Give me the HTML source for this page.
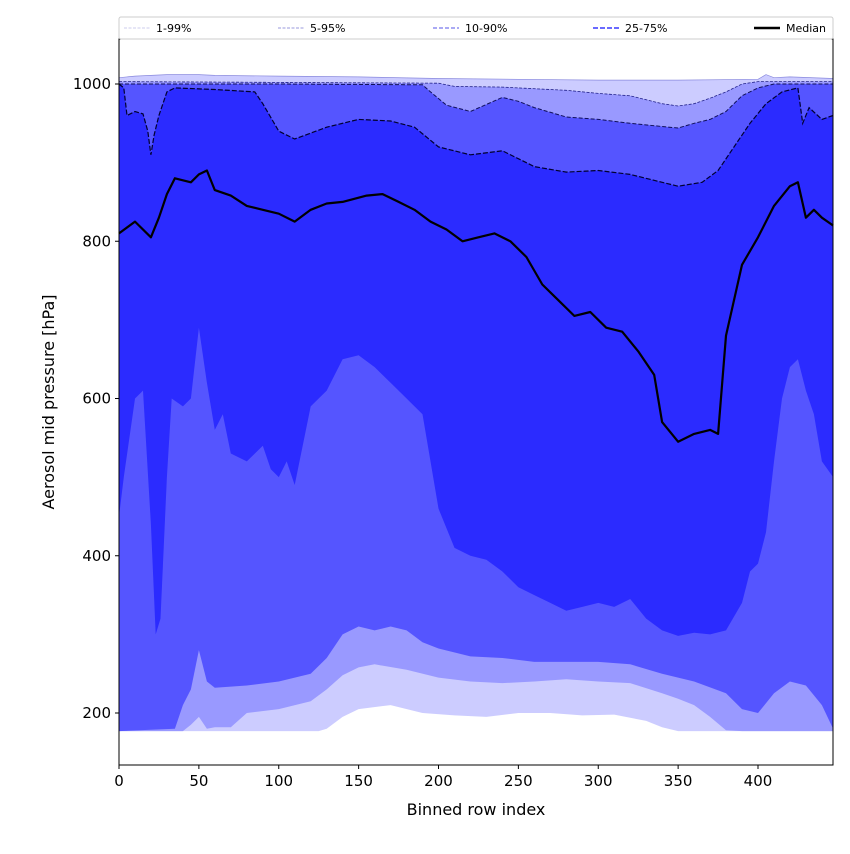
<!DOCTYPE html>
<html><head><meta charset="utf-8"><style>
body{margin:0;background:#fff;font-family:"DejaVu Sans",sans-serif}
</style></head><body>
<svg id="chart" width="850" height="850" xmlns="http://www.w3.org/2000/svg" font-family="DejaVu Sans, sans-serif"></svg>
<script>
const xTicks=[0,50,100,150,200,250,300,350,400];
const yTicks=[200,400,600,800,1000];
const p99X=[0,10,30,50,60,100,150,200,250,300,350,400,405,410,420,447];
const p99=[1008,1010,1012,1012,1011,1010,1009,1007,1006,1005,1005,1006,1012,1008,1009,1007];
const p95X=[0,100,200,210,240,280,300,320,340,350,360,370,380,390,400,447];
const p95=[1003,1002,1001,997,996,992,988,985,975,972,975,982,990,1000,1003,1003];
const p90X=[0,100,190,195,205,220,240,250,260,280,300,320,340,350,360,370,380,390,400,410,447];
const p90=[1000,1000,999,990,973,965,983,978,970,958,955,950,946,944,950,955,965,985,995,1000,1000];
const p75X=[0,3,5,10,15,18,20,22,25,30,35,60,85,90,100,110,130,150,170,185,200,220,240,260,280,300,320,340,350,365,375,385,395,405,415,425,428,432,440,447];
const p75=[1000,995,960,965,962,940,910,935,960,990,995,993,990,975,940,930,945,955,953,945,920,910,915,895,888,890,885,875,870,875,890,920,950,975,990,995,950,970,955,960];
const medX=[0,10,20,25,30,35,45,50,55,60,70,80,90,100,110,120,130,140,155,165,175,185,195,205,215,225,235,245,255,265,275,285,295,305,315,325,335,340,350,360,370,375,380,390,400,410,420,425,430,435,440,447];
const med=[810,825,805,830,860,880,875,885,890,865,858,845,840,835,825,840,848,850,858,860,850,840,825,815,800,805,810,800,780,745,725,705,710,690,685,660,630,570,545,555,560,555,680,770,805,845,870,875,830,840,830,820];
const p25X=[0,3,10,15,20,23,26,30,33,40,45,50,55,60,65,70,80,90,95,100,105,110,120,130,140,150,160,170,180,190,195,200,210,220,230,240,250,260,270,280,290,300,310,320,330,340,350,360,370,380,390,395,400,405,410,415,420,425,430,435,440,447];
const p25=[450,500,600,610,440,300,320,500,600,590,600,690,620,560,580,530,520,540,510,500,520,490,590,610,650,655,640,620,600,580,520,460,410,400,395,380,360,350,340,330,335,340,335,345,320,305,298,302,300,305,340,380,390,430,520,600,640,650,610,580,520,500];
const p10X=[0,35,40,45,50,55,60,80,100,120,130,140,150,160,170,180,190,200,220,240,260,280,300,320,340,360,380,390,400,410,420,430,440,447];
const p10=[177,180,210,230,280,240,232,235,240,250,270,300,310,305,310,305,290,282,272,270,265,265,265,262,250,240,225,205,200,225,240,235,210,180];
const p5X=[0,40,45,50,55,60,70,80,100,120,130,140,150,160,180,200,220,240,260,280,300,320,340,350,360,370,380,390,447];
const p5=[177,177,185,195,180,182,182,200,205,215,230,248,258,262,255,245,240,238,240,243,240,238,225,218,210,195,178,177,177];
const p1X=[0,125,130,140,150,170,190,210,230,250,270,290,310,330,340,350,447];
const p1=[177,177,180,195,205,210,200,197,195,200,200,197,198,190,182,177,177];

const L=119,R=833,T=39,B=765;
const xs=v=>L+v*(639/400);
const ys=v=>84+(1000-v)*(629/800);
const svg=document.getElementById('chart');
const NS='http://www.w3.org/2000/svg';
function mk(t,a,parent){const e=document.createElementNS(NS,t);for(const k in a)e.setAttribute(k,a[k]);(parent||svg).appendChild(e);return e;}
function pts(X,V){return X.map((x,i)=>xs(x).toFixed(1)+','+ys(V[i]).toFixed(1));}
function band(uX,u,lX,l,color,name){
  const p=pts(uX,u).concat(pts(lX,l).reverse());
  const e=mk('polygon',{points:p.join(' '),fill:color});
  
  
}
function line(X,V,attrs,name){
  const e=mk('polyline',Object.assign({points:pts(X,V).join(' '),fill:'none'},attrs));
  
  
}
band(p99X,p99,p1X,p1,'#ccccff','band-1-99');
band(p95X,p95,p5X,p5,'#9999ff','band-5-95');
band(p90X,p90,p10X,p10,'#5555ff','band-10-90');
band(p75X,p75,p25X,p25,'#2b2bff','band-25-75');
line(p99X,p99,{stroke:'#8888dd','stroke-width':0.7},'line-p99');
line(p95X,p95,{stroke:'#22228a','stroke-width':0.8,'stroke-dasharray':'3,1.5'},'line-p95');
line(p90X,p90,{stroke:'#10105a','stroke-width':1,'stroke-dasharray':'4,2'},'line-p90');
line(p75X,p75,{stroke:'#000030','stroke-width':1.2,'stroke-dasharray':'5,2'},'line-p75');
line(medX,med,{stroke:'#000','stroke-width':2.2,'stroke-linejoin':'round'},'median-line');
const ax=mk('rect',{x:L,y:T,width:R-L,height:B-T,fill:'none',stroke:'#000','stroke-width':1});

xTicks.forEach(t=>{
  mk('line',{x1:xs(t),x2:xs(t),y1:B,y2:B+4,stroke:'#000'});
  const e=mk('text',{x:xs(t),y:B+21,'text-anchor':'middle','font-size':15});e.textContent=t;
  
});
yTicks.forEach(t=>{
  mk('line',{x1:L-4,x2:L,y1:ys(t),y2:ys(t),stroke:'#000'});
  const e=mk('text',{x:L-8,y:ys(t)+5,'text-anchor':'end','font-size':15});e.textContent=t;
  
});
let e=mk('text',{x:(L+R)/2,y:815,'text-anchor':'middle','font-size':16});e.textContent='Binned row index';

e=mk('text',{x:54,y:(T+B)/2,'text-anchor':'middle','font-size':16,transform:`rotate(-90 54 ${(T+B)/2})`});e.textContent='Aerosol mid pressure [hPa]';

const lg=mk('rect',{x:119,y:17,width:714,height:22,fill:'#fff',stroke:'#ccc','stroke-width':1,rx:2});

const legLabels=['1-99%','5-95%','10-90%','25-75%','Median'];
const legX=[124,278,433,593,754];
const legStyle=[{stroke:'#ccccee','stroke-width':1,'stroke-dasharray':'3,1.5'},{stroke:'#9999dd','stroke-width':1,'stroke-dasharray':'3,1.5'},{stroke:'#7777ee','stroke-width':1.3,'stroke-dasharray':'4,2'},{stroke:'#5555ff','stroke-width':1.8,'stroke-dasharray':'5,2'},{stroke:'#000','stroke-width':2.5}];
legLabels.forEach((lab,i)=>{
  mk('line',Object.assign({x1:legX[i],x2:legX[i]+26,y1:28,y2:28},legStyle[i]));
  const t=mk('text',{x:legX[i]+32,y:32,'font-size':11});t.textContent=lab;
  
});
</script>
</body></html>
